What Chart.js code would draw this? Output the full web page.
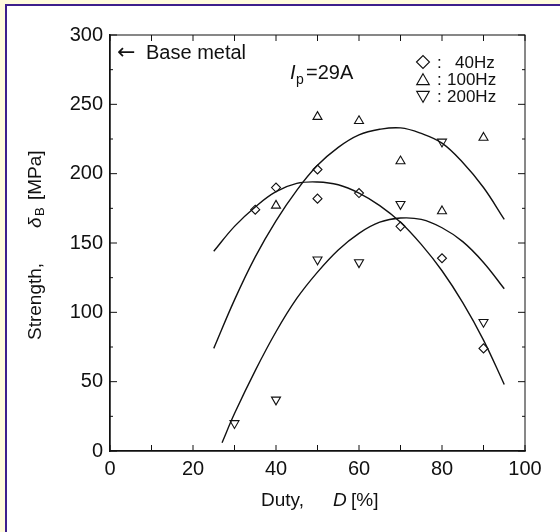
<!DOCTYPE html>
<html>
<head>
<meta charset="utf-8">
<script src="https://cdn.jsdelivr.net/npm/chart.js@4.4.1/dist/chart.umd.min.js"></script>
<style>
  html, body { margin: 0; padding: 0; }
  body { width: 560px; height: 532px; background: #fffbdc; position: relative; overflow: hidden; }
  #panel {
    position: absolute; left: 5px; top: 4px; right: 0; bottom: 0;
    background: #fff; border-left: 2px solid #3d1f8c; border-top: 2px solid #3d1f8c;
  }
  #wrap { position: absolute; left: 0; top: 0; width: 560px; height: 532px; }
</style>
</head>
<body>
<div id="panel"></div>
<div id="wrap"><canvas id="c" width="560" height="532"></canvas></div>
<script>
// ── measured points ─────────────────────────────────────────────
const duty40  = [35, 40, 50, 50, 60, 70, 80, 90];
const str40   = [174, 190, 203, 182, 186, 162, 139, 74];
const duty100 = [40, 50, 60, 70, 80, 90];
const str100  = [177, 241, 238, 209, 173, 226];
const duty200 = [30, 40, 50, 60, 70, 80, 90];
const str200  = [20, 37, 138, 136, 178, 223, 93];

// ── fitted curves ───────────────────────────────────────────────
const fitX40  = [25, 30, 35, 40, 45, 50, 55, 60, 65, 70, 75, 80, 85, 90, 95];
const fitY40  = [144, 162, 176, 187, 193, 194, 192, 186, 177, 165, 149, 130, 107, 80, 48];
const fitX100 = [25, 30, 35, 40, 45, 50, 55, 60, 65, 70, 75, 80, 85, 90, 95];
const fitY100 = [74, 109, 140, 166, 188, 206, 219, 228, 232, 233, 229, 222, 208, 190, 167];
const fitX200 = [27, 30, 35, 40, 45, 50, 55, 60, 65, 70, 75, 80, 85, 90, 95];
const fitY200 = [6, 27, 58, 86, 110, 129, 145, 157, 165, 168, 167, 161, 151, 136, 117];

// ── axes ────────────────────────────────────────────────────────
const xMarks = [0, 10, 20, 30, 40, 50, 60, 70, 80, 90, 100];
const yMarks = [0, 25, 50, 75, 100, 125, 150, 175, 200, 225, 250, 275, 300];
const legendItems = ['40Hz', '100Hz', '200Hz'];

const INK = '#111';
const FONT = "'Liberation Sans', Arial, 'DejaVu Sans', sans-serif";

const pts = (xs, ys) => xs.map((v, i) => ({ x: v, y: ys[i] }));

const markerSet = (label, xs, ys, style, rot) => ({
    label, data: pts(xs, ys), showLine: false,
    pointStyle: style, pointRotation: rot,
    pointRadius: style === 'rectRot' ? 4.5 : 5.2,
    pointBorderColor: INK, pointBackgroundColor: 'rgba(0,0,0,0)', pointBorderWidth: 1.1,
});

const curveSet = (xs, ys) => ({
    data: pts(xs, ys), showLine: true, pointRadius: 0,
    borderColor: INK, borderWidth: 1.4, tension: 0.4,
});

// Frame, inward ticks and the text annotations
const decor = {
    id: 'decor',
    afterDraw(chart) {
        const { ctx, chartArea: a, scales: { x, y } } = chart;
        ctx.save();
        ctx.strokeStyle = INK;
        ctx.lineWidth = 1;
        ctx.strokeRect(a.left, a.top, a.width, a.height);
        ctx.beginPath();
        xMarks.forEach(v => {
            const px = x.getPixelForValue(v);
            ctx.moveTo(px, a.bottom); ctx.lineTo(px, a.bottom - 6);
            ctx.moveTo(px, a.top); ctx.lineTo(px, a.top + 6);
        });
        yMarks.forEach(v => {
            const py = y.getPixelForValue(v);
            const len = v % 50 ? 3 : 7;
            ctx.moveTo(a.left, py); ctx.lineTo(a.left + len, py);
            ctx.moveTo(a.right, py); ctx.lineTo(a.right - len, py);
        });
        ctx.stroke();

        ctx.fillStyle = INK;
        ctx.textBaseline = 'alphabetic';
        ctx.textAlign = 'left';

        // annotations
        ctx.font = `22px 'DejaVu Sans', sans-serif`;
        ctx.fillText('\u2190', 117, 59);
        ctx.font = `20px ${FONT}`;
        ctx.fillText('Base metal', 146, 59);
        ctx.font = `italic 20px ${FONT}`;
        ctx.fillText('I', 290, 79);
        ctx.font = `14px ${FONT}`;
        ctx.fillText('p', 296, 84);
        ctx.font = `20px ${FONT}`;
        ctx.fillText('=29A', 306, 79);

        // legend
        const rows = [
            { style: 'rectRot', rot: 0, r: 6.5, cy: 62, tx: 455, ty: 68 },
            { style: 'triangle', rot: 0, r: 7.3, cy: 81, tx: 447, ty: 85 },
            { style: 'triangle', rot: 180, r: 7.3, cy: 95, tx: 447, ty: 102 },
        ];
        ctx.font = `17px ${FONT}`;
        rows.forEach((row, i) => {
            ctx.save();
            ctx.lineWidth = 1.1;
            ctx.strokeStyle = INK;
            ctx.fillStyle = 'rgba(0,0,0,0)';
            Chart.helpers.drawPoint(ctx, { pointStyle: row.style, rotation: row.rot, radius: row.r, borderWidth: 1.1 }, 423, row.cy);
            ctx.restore();
            ctx.fillText(':', 437, row.ty);
            ctx.fillText(legendItems[i], row.tx, row.ty);
        });

        // x title
        ctx.font = `19px ${FONT}`;
        ctx.fillText('Duty,', 261, 506);
        ctx.font = `italic 19px ${FONT}`;
        ctx.fillText('D', 333, 506);
        ctx.font = `19px ${FONT}`;
        ctx.fillText('[%]', 351, 506);

        // y title
        ctx.translate(41, 340);
        ctx.rotate(-Math.PI / 2);
        ctx.font = `19px ${FONT}`;
        ctx.fillText('Strength,', 0, 0);
        ctx.font = `italic 19px ${FONT}`;
        ctx.fillText('\u03b4', 112, 0);
        ctx.font = `13px ${FONT}`;
        ctx.fillText('B', 124, 3);
        ctx.font = `19px ${FONT}`;
        ctx.fillText('[MPa]', 140, 0);
        ctx.restore();
    },
};

new Chart(document.getElementById('c'), {
    type: 'scatter',
    data: {
        datasets: [
            curveSet(fitX40, fitY40),
            curveSet(fitX100, fitY100),
            curveSet(fitX200, fitY200),
            markerSet('40Hz', duty40, str40, 'rectRot', 0),
            markerSet('100Hz', duty100, str100, 'triangle', 0),
            markerSet('200Hz', duty200, str200, 'triangle', 180),
        ],
    },
    options: {
        responsive: false,
        animation: false,
        events: [],
        layout: { padding: { left: 0, right: 35, top: 35, bottom: 0 } },
        plugins: { legend: { display: false }, tooltip: { enabled: false } },
        scales: {
            x: {
                type: 'linear', min: 0, max: 100,
                afterFit(scale) { scale.height = 81; },
                grid: { display: false, drawTicks: false },
                border: { display: true, color: INK, width: 1.5 },
                ticks: { stepSize: 20, color: INK, padding: 6, font: { family: FONT, size: 20 } },
            },
            y: {
                type: 'linear', min: 0, max: 300,
                afterFit(scale) { scale.width = 110; },
                grid: { display: false, drawTicks: false },
                border: { display: true, color: INK, width: 1.5 },
                ticks: { stepSize: 50, color: INK, padding: 7, font: { family: FONT, size: 20 } },
            },
        },
    },
    plugins: [decor],
});
</script>
</body>
</html>
